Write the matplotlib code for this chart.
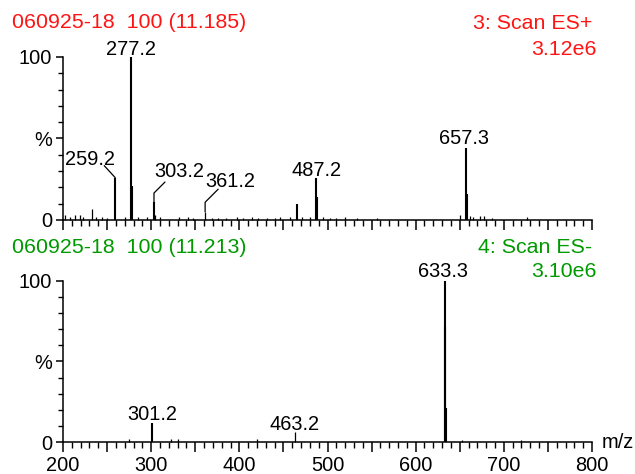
import matplotlib.pyplot as plt
from matplotlib.ticker import MultipleLocator, FixedLocator

plt.rcParams['font.family'] = ['Liberation Sans', 'DejaVu Sans']

# ES+ scan (top panel): m/z and relative intensity (%)
pos_mz = [202, 208, 213.6, 219, 223, 233, 238, 244, 250, 259.2, 270,
          277.2, 278.2, 285, 295, 303.2, 304.2, 310, 332, 342, 348, 361.2,
          368.6, 376, 385, 397, 404, 414, 421, 431, 440, 446, 457, 465.5,
          471, 480, 487.2, 488.2, 495, 503, 510, 520, 533, 556, 650,
          657.3, 658.3, 661.5, 665, 673, 677, 687, 725.7]
pos_int = [3, 2, 3, 3, 2, 7, 2, 2, 1.5, 26, 2,
           100, 21, 2, 2, 11, 3, 2, 2, 2, 1, 5,
           1.5, 1, 1, 2, 1.5, 2, 1.5, 1.5, 1.5, 2, 2, 10,
           2, 2, 26, 14, 2, 1.5, 1.5, 2, 1.5, 1, 3,
           44, 16, 2.5, 2, 2.5, 2.5, 1.5, 2]

# ES- scan (bottom panel)
neg_mz = [275, 301.2, 322, 330, 420, 463.2, 632.8, 633.3, 634.3, 653, 720]
neg_int = [2, 12, 2, 2, 2, 6, 72, 100, 21, 1.5, 1.5]

pos_labels = ["259.2", "277.2", "303.2", "361.2", "487.2", "657.3"]
neg_labels = ["301.2", "463.2", "633.3"]

RED = "#ff1414"
GREEN = "#009a00"

# label placement (offset points) and leader lines for the crowded peaks
label_offset = {"259.2": (-17.8, 9.4), "303.2": (18, 18), "361.2": (18, 18),
                "277.2": (0, 1.4), "487.2": (0, 1.4), "657.3": (-1.5, 2.9),
                "301.2": (0, 2.2), "463.2": (0, 1.4), "633.3": (-1.4, 2.9)}
leader = {"259.2": ((-7.9, 8.6), "arc3"),
          "303.2": ((7.9, 14.4), "angle,angleA=45,angleB=90,rad=0"),
          "361.2": ((9.4, 16.3), "angle,angleA=45,angleB=90,rad=0")}


def draw_panel(ax, mz, inten, labels):
    lw = [1.5 if h >= 8 else 0.9 for h in inten]
    ax.vlines(mz, 0, inten, colors="black", linewidths=lw, clip_on=False)
    for lab in labels:
        x = float(lab)
        h = max(i for m, i in zip(mz, inten) if abs(m - x) < 0.3)
        ax.annotate(lab, xy=(x, h), xytext=label_offset[lab],
                    textcoords="offset points", ha="center", va="baseline",
                    fontsize=14.4, annotation_clip=False)
        if lab in leader:
            off, cs = leader[lab]
            ax.annotate("", xy=(x, h), xytext=off, textcoords="offset points",
                        annotation_clip=False,
                        arrowprops=dict(arrowstyle="-", connectionstyle=cs,
                                        shrinkA=0, shrinkB=0, lw=0.9,
                                        color="black"))
    ax.set_xlim(200, 800)
    ax.set_ylim(0, 100)
    for s in ["top", "right"]:
        ax.spines[s].set_visible(False)
    for s in ["left", "bottom"]:
        ax.spines[s].set_linewidth(1.1)
    ax.xaxis.set_major_locator(MultipleLocator(50))
    ax.xaxis.set_minor_locator(MultipleLocator(10))
    ax.xaxis.set_major_formatter(
        lambda v, p: str(int(v)) if v % 100 == 0 else "")
    ax.yaxis.set_major_locator(FixedLocator([0, 50, 100]))
    ax.yaxis.set_minor_locator(MultipleLocator(10))
    ax.set_yticklabels(["0", "%", "100"])
    ax.tick_params(axis="x", which="major", length=7.2, width=1.1, pad=3,
                   labelsize=14.4)
    ax.tick_params(axis="x", which="minor", length=4.3, width=1.0)
    ax.tick_params(axis="y", which="major", length=4.8, width=1.1, pad=3,
                   labelsize=14.4)
    ax.tick_params(axis="y", which="minor", length=3.5, width=1.0)


fig = plt.figure(figsize=(6.35, 4.74), dpi=100)
ax1 = fig.add_axes([0.0992, 0.5359, 0.8331, 0.3439])
ax2 = fig.add_axes([0.0992, 0.0675, 0.8331, 0.3397])

draw_panel(ax1, pos_mz, pos_int, pos_labels)
draw_panel(ax2, neg_mz, neg_int, neg_labels)
ax1.tick_params(axis="x", labelbottom=False)

ax2.text(1.018, 0, "m/z", transform=ax2.transAxes, ha="left", va="center",
         fontsize=14.4)

fig.text(0.019, 0.940, "060925-18  100 (11.185)", color=RED, fontsize=15.4,
         va="baseline")
fig.text(0.933, 0.938, "3: Scan ES+", color=RED, fontsize=15.4,
         ha="right", va="baseline")
fig.text(0.940, 0.884, "3.12e6", color=RED, fontsize=15.4,
         ha="right", va="baseline")

fig.text(0.019, 0.4656, "060925-18  100 (11.213)", color=GREEN, fontsize=15.4,
         va="baseline")
fig.text(0.932, 0.466, "4: Scan ES-", color=GREEN, fontsize=15.4,
         ha="right", va="baseline")
fig.text(0.940, 0.4156, "3.10e6", color=GREEN, fontsize=15.4,
         ha="right", va="baseline")

fig.savefig("out.png", dpi=100)
